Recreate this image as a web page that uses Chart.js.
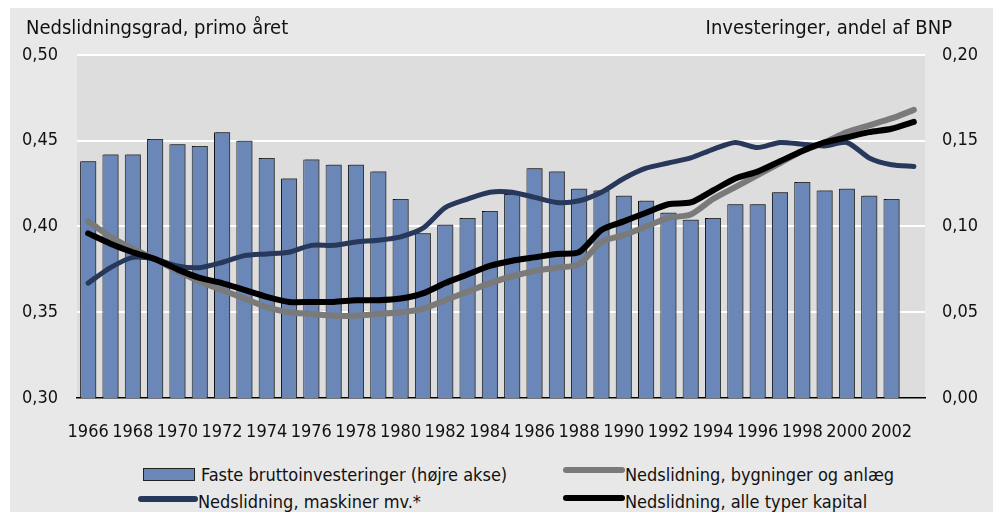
<!DOCTYPE html>
<html>
<head>
<meta charset="utf-8">
<script src="https://cdn.jsdelivr.net/npm/chart.js@4.4.1/dist/chart.umd.min.js"></script>
<style>
  html, body { margin: 0; padding: 0; background: #fff; }
  body { width: 999px; height: 512px; position: relative; overflow: hidden;
         font-family: "DejaVu Sans Condensed", "Liberation Sans Narrow", sans-serif; color: #111; }
  #frame { position: absolute; left: 10px; top: 8px; width: 983px; height: 504px; background: #e8e8e8; }
  #wrap { position: absolute; left: 0; top: 0; width: 983px; height: 440px; }
  .ttl { position: absolute; font-size: 20px; line-height: 20px; white-space: nowrap; }
  .leg { position: absolute; font-size: 18px; line-height: 18px; white-space: nowrap; }
  .sw { position: absolute; }
</style>
</head>
<body>
<div id="frame">
  <div id="wrap"><canvas id="c"></canvas></div>
  <div class="ttl" style="left:16px; top:9px;">Nedslidningsgrad, primo året</div>
  <div class="ttl" style="right:41px; top:9px;">Investeringer, andel af BNP</div>

  <div class="sw" style="left:133px; top:460px; width:50px; height:11px; background:#6a87b8; border:1px solid #222;"></div>
  <div class="leg" style="left:191px; top:458px;">Faste bruttoinvesteringer (højre akse)</div>
  <div class="sw" style="left:553px; top:459px; width:62px; height:6px; border-radius:3px; background:#7a7a7a;"></div>
  <div class="leg" style="left:615px; top:458px;">Nedslidning, bygninger og anlæg</div>

  <div class="sw" style="left:128px; top:488px; width:60px; height:6px; border-radius:3px; background:#27385a;"></div>
  <div class="leg" style="left:188px; top:485px;">Nedslidning, maskiner mv.*</div>
  <div class="sw" style="left:553px; top:487px; width:62px; height:6px; border-radius:3px; background:#000;"></div>
  <div class="leg" style="left:615px; top:485px;">Nedslidning, alle typer kapital</div>
</div>
<script>
const years = [1966, 1967, 1968, 1969, 1970, 1971, 1972, 1973, 1974, 1975,
  1976, 1977, 1978, 1979, 1980, 1981, 1982, 1983, 1984, 1985,
  1986, 1987, 1988, 1989, 1990, 1991, 1992, 1993, 1994, 1995,
  1996, 1997, 1998, 1999, 2000, 2001, 2002, 2003];

// investeringer, andel af BNP (right axis)
const invest = [0.138, 0.142, 0.142, 0.151, 0.148, 0.147, 0.155, 0.150, 0.140, 0.128,
  0.139, 0.136, 0.136, 0.132, 0.116, 0.096, 0.101, 0.105, 0.109, 0.119,
  0.134, 0.132, 0.122, 0.121, 0.118, 0.115, 0.108, 0.104, 0.105, 0.113,
  0.113, 0.120, 0.126, 0.121, 0.122, 0.118, 0.116, null];

// nedslidningsgrad (left axis)
const bygninger = [0.403, 0.394, 0.387, 0.381, 0.374, 0.368, 0.363, 0.358, 0.353, 0.350,
  0.349, 0.348, 0.348, 0.349, 0.350, 0.352, 0.357, 0.362, 0.367, 0.371,
  0.374, 0.376, 0.378, 0.391, 0.395, 0.400, 0.405, 0.407, 0.416, 0.423,
  0.430, 0.437, 0.444, 0.449, 0.455, 0.459, 0.463, 0.468];

const maskiner = [0.367, 0.376, 0.382, 0.381, 0.377, 0.376, 0.379, 0.383, 0.384, 0.385,
  0.389, 0.389, 0.391, 0.392, 0.394, 0.399, 0.411, 0.416, 0.420, 0.420,
  0.417, 0.414, 0.415, 0.420, 0.428, 0.434, 0.437, 0.440, 0.445, 0.449,
  0.446, 0.449, 0.448, 0.447, 0.449, 0.440, 0.436, 0.435];

const alle = [0.396, 0.390, 0.385, 0.381, 0.375, 0.370, 0.367, 0.363, 0.359, 0.356,
  0.356, 0.356, 0.357, 0.357, 0.358, 0.361, 0.367, 0.372, 0.377, 0.380,
  0.382, 0.384, 0.385, 0.398, 0.403, 0.408, 0.413, 0.414, 0.421, 0.428,
  0.432, 0.438, 0.444, 0.449, 0.452, 0.455, 0.457, 0.461];

const leftTicks = [0.30, 0.35, 0.40, 0.45, 0.50];
const rightTicks = [0.00, 0.05, 0.10, 0.15, 0.20];

const FONT = '"DejaVu Sans Condensed", "Liberation Sans Narrow", sans-serif';
const fmt = v => v.toFixed(2).replace('.', ',');

// plot background + bar shadow
const plotBg = {
  id: 'plotBg',
  beforeDraw(chart) {
    const a = chart.chartArea, ctx = chart.ctx;
    ctx.save();
    ctx.fillStyle = '#dddddd';
    ctx.fillRect(a.left, a.top, a.right - a.left, a.bottom - a.top);
    ctx.restore();
  },
  beforeDatasetDraw(chart, args) {
    if (args.meta.type !== 'bar') return;
    const ctx = chart.ctx;
    ctx.save();
    ctx.shadowColor = 'rgba(70,70,70,0.75)';
    ctx.shadowOffsetX = 2;
    ctx.shadowOffsetY = -1;
    ctx.shadowBlur = 0;
  },
  afterDatasetDraw(chart, args) {
    if (args.meta.type !== 'bar') return;
    chart.ctx.restore();
  }
};

const lineDs = (label, data, color, width, order) => ({
  type: 'line', label, data, yAxisID: 'yL', order,
  borderColor: color, backgroundColor: color, borderWidth: width,
  pointRadius: 0, tension: 0.25, fill: false,
  borderCapStyle: 'round', borderJoinStyle: 'round'
});

new Chart(document.getElementById('c'), {
  data: {
    labels: years,
    datasets: [
      { type: 'bar', label: 'Faste bruttoinvesteringer (højre akse)', data: invest, yAxisID: 'yR', order: 4,
        backgroundColor: '#6a87b8', borderColor: '#111', borderWidth: 1,
        barPercentage: 0.72, categoryPercentage: 1.0 },
      lineDs('Nedslidning, bygninger og anlæg', bygninger, '#7a7a7a', 6, 3),
      lineDs('Nedslidning, maskiner mv.*', maskiner, '#27385a', 5, 2),
      lineDs('Nedslidning, alle typer kapital', alle, '#000000', 6, 1)
    ]
  },
  options: {
    responsive: true,
    maintainAspectRatio: false,
    animation: false,
    layout: { padding: { top: 47, left: 0, right: 0, bottom: 0 } },
    plugins: { legend: { display: false }, tooltip: { enabled: false } },
    scales: {
      x: {
        offset: true,
        grid: { display: false, drawTicks: false },
        border: { display: true, color: '#000', width: 1.5 },
        ticks: {
          color: '#111', font: { family: FONT, size: 18 }, padding: 24,
          autoSkip: false, maxRotation: 0, minRotation: 0,
          callback: (v, i) => (i % 2 === 0 ? String(years[i]) : '')
        },
        afterFit: s => { s.height = 50; }
      },
      yL: {
        position: 'left', min: 0.30, max: 0.50,
        afterBuildTicks: s => { s.ticks = leftTicks.map(v => ({ value: v })); },
        grid: { color: ctx => (ctx.tick && ctx.tick.value <= 0.301 ? 'rgba(0,0,0,0)' : '#ffffff'), lineWidth: 2, drawTicks: false },
        border: { display: false },
        ticks: { color: '#111', font: { family: FONT, size: 18 }, padding: 19, callback: v => fmt(v) },
        afterFit: s => { s.width = 67; }
      },
      yR: {
        position: 'right', min: 0, max: 0.20,
        afterBuildTicks: s => { s.ticks = rightTicks.map(v => ({ value: v })); },
        grid: { display: false, drawTicks: false },
        border: { display: false },
        ticks: { color: '#111', font: { family: FONT, size: 18 }, padding: 17, callback: v => fmt(v) },
        afterFit: s => { s.width = 68; }
      }
    }
  },
  plugins: [plotBg]
});
</script>
</body>
</html>
